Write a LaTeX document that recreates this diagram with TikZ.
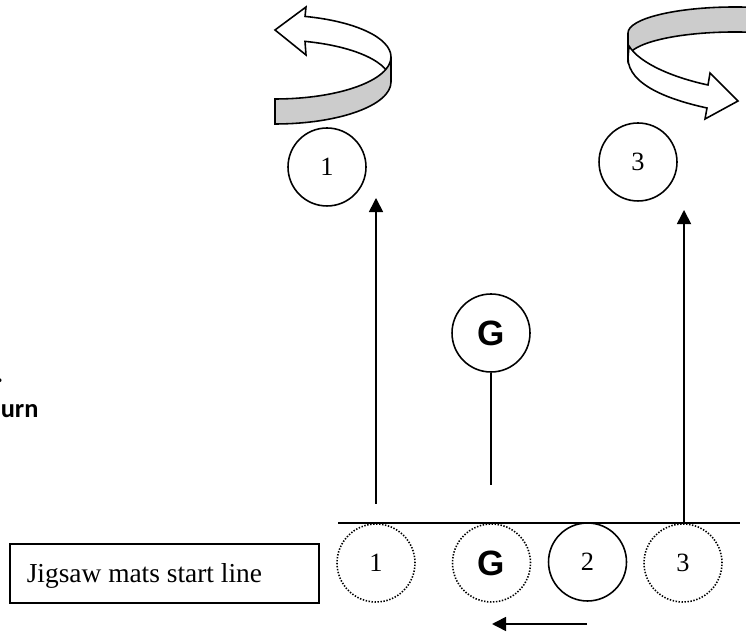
\documentclass[tikz,border=0pt]{standalone}
\usepackage{fontspec}
\setmainfont{Liberation Serif}
\newfontfamily\gfont{Liberation Sans}
\newfontfamily\notefont{Carlito}
\usetikzlibrary{arrows.meta}
\tikzset{
  mat/.style={draw,circle,line width=0.9pt,minimum size=1.56cm,inner sep=0pt,font=\fontsize{15}{18}\selectfont},
  oldmat/.style={mat,dash pattern=on 0.8pt off 0.9pt},
  gmat/.style={font=\gfont\bfseries\fontsize{20}{24}\selectfont},
}

\begin{document}
\begin{tikzpicture}[x=0.02cm,y=0.02cm,line width=0.9pt,>={Triangle[length=8pt,width=8pt]}]
    \useasboundingbox (0,0) rectangle (746,634);
    % turning arrow over mat 1
    \draw [fill=white] (391,577) arc [start angle=0,end angle=75,x radius=116,y radius=42]
      -- (306,627) -- (275,604) -- (306,579) -- (305,592.6)
      arc [start angle=75,end angle=0,x radius=116,y radius=42] -- cycle;
    \draw [fill=black!20] (391,577) arc [start angle=0,end angle=-90,x radius=116,y radius=42]
      -- (275,510) arc [start angle=-90,end angle=0,x radius=116,y radius=42] -- cycle;
    % turning arrow over mat 3
    \draw [fill=black!20] (628,576) -- (628,601) arc [start angle=180,end angle=30,x radius=107,y radius=26]
      -- ++(0,-25) arc [start angle=30,end angle=180,x radius=107,y radius=26] -- cycle;
    \draw [fill=white] (629,588) .. controls (640,570) and (675,556) .. (708,549)
      -- (710,561) -- (738,533) -- (705,515) -- (707,526)
      .. controls (670,534) and (628,549) .. (628,576) -- cycle;
    % mats after the move
    \node [mat] (t1) at (327,467) {1};
    \node [mat] (t3) at (638,472) {3};
    \node [mat,gmat] (gup) at (491,301) {G};
    % mats on the start line
    \node [oldmat] (b1) at (376,71) {1};
    \node [oldmat,gmat] (bg) at (491.5,71) {G};
    \node [mat] (b2) at (587.5,72) {2};
    \node [oldmat] (b3) at (683,71) {3};
    \coordinate (linel) at (338,111);
    \coordinate (liner) at (740,111);
    \draw (linel)--(liner);
    \node [draw,anchor=west,minimum width=6.18cm,minimum height=1.18cm] (startbox) at (9,60.5) {};
    \node [anchor=west,inner sep=0pt,font=\fontsize{15.6}{18}\selectfont] (startlabel) at (26,58) {Jigsaw mats start line};
    % moves
    \coordinate (go1) at (376,130);
    \coordinate (up1) at (376,436);
    \coordinate (go3) at (684,111);
    \coordinate (up3) at (684,424);
    \coordinate (gfoot) at (491,149);
    \coordinate (mvr) at (587,10);
    \coordinate (mvl) at (492,10);
    \draw [->] (go1)--(up1);
    \draw [->] (go3)--(up3);
    \draw (gup)--(gfoot);
    \draw [->] (mvr)--(mvl);
    % note cut at the left edge
    \node [font=\notefont\bfseries\fontsize{15}{18}\selectfont,anchor=base east,inner sep=0pt] (notedot) at (4,251) {.};
    \node [font=\notefont\bfseries\fontsize{15}{18}\selectfont,anchor=base west,inner sep=0pt] (noteturn) at (0,216) {urn};
  \end{tikzpicture}
\end{document}
